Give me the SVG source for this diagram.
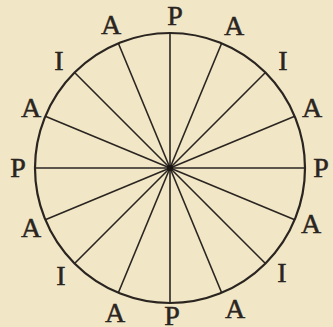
<svg xmlns="http://www.w3.org/2000/svg" width="333" height="327" viewBox="0 0 333 327">
<style>
.lbl{font-family:"Liberation Serif","DejaVu Serif",serif;font-size:28px;fill:#2a2520;text-anchor:middle;stroke:#2a2520;stroke-width:0.5}
.sp{stroke:#2a2520;stroke-width:1.6;fill:none}
</style>
<rect width="333" height="327" fill="#f1e6c6"/>
<g id="connectors">
<line class="sp" x1="35" y1="168" x2="305" y2="168"/>
<line class="sp" x1="294.72" y1="116.34" x2="45.28" y2="219.66"/>
<line class="sp" x1="265.46" y1="72.54" x2="74.54" y2="263.46"/>
<line class="sp" x1="221.66" y1="43.28" x2="118.34" y2="292.72"/>
<line class="sp" x1="170" y1="33" x2="170" y2="303"/>
<line class="sp" x1="118.34" y1="43.28" x2="221.66" y2="292.72"/>
<line class="sp" x1="74.54" y1="72.54" x2="265.46" y2="263.46"/>
<line class="sp" x1="45.28" y1="116.34" x2="294.72" y2="219.66"/>
</g>
<g id="circle">
<circle cx="170" cy="168" r="135" fill="none" stroke="#2a2520" stroke-width="2.2"/>
<circle cx="170" cy="168" r="3" fill="#1a1510"/>
</g>
<g id="labels">
<text class="lbl" x="175" y="25">P</text>
<text class="lbl" x="111" y="34">A</text>
<text class="lbl" x="234" y="35">A</text>
<text class="lbl" x="59" y="70">I</text>
<text class="lbl" x="283" y="70">I</text>
<text class="lbl" x="31" y="117">A</text>
<text class="lbl" x="312" y="117">A</text>
<text class="lbl" x="18" y="177">P</text>
<text class="lbl" x="321" y="177">P</text>
<text class="lbl" x="31" y="237">A</text>
<text class="lbl" x="311" y="233">A</text>
<text class="lbl" x="61" y="285">I</text>
<text class="lbl" x="282" y="282">I</text>
<text class="lbl" x="115" y="322">A</text>
<text class="lbl" x="235" y="318">A</text>
<text class="lbl" x="172" y="325">P</text>
</g>
</svg>
